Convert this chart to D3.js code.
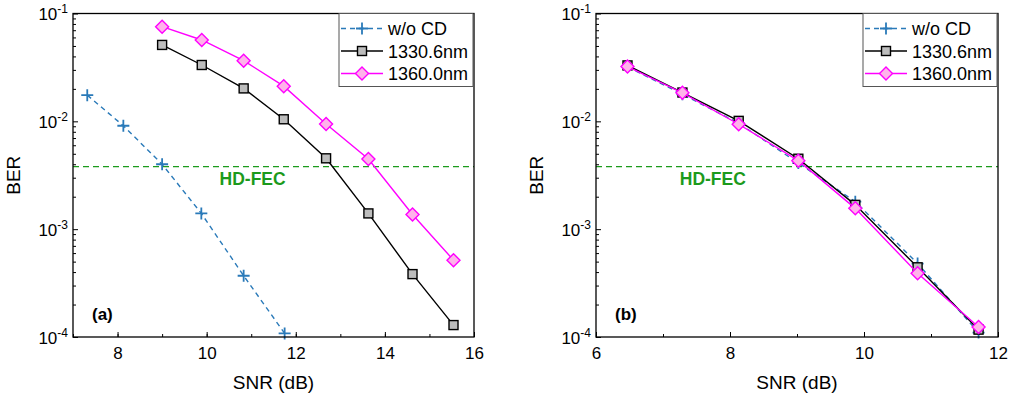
<!DOCTYPE html>
<html>
<head>
<meta charset="utf-8">
<script src="https://cdn.jsdelivr.net/npm/d3@7"></script>
<style>
  body { margin: 0; background: #fff; }
  text { font-family: "Liberation Sans", Arial, sans-serif; }
</style>
</head>
<body>
<div id="chart"></div>
<script>
// panel (a)
const snrA_wo = [7.32, 8.13, 9.0, 9.88, 10.83, 11.75];
const berA_wo = [0.0175, 0.0091, 0.0040, 0.0014, 0.00037, 0.000108];
const snrA = [9.0, 9.89, 10.83, 11.73, 12.68, 13.63, 14.62, 15.54];
const berA_1330 = [0.0511, 0.0333, 0.0202, 0.01045, 0.00454, 0.0014, 0.000383, 0.000129];
const berA_1360 = [0.0755, 0.0568, 0.0365, 0.0212, 0.00944, 0.00447, 0.00137, 0.000516];
// panel (b)
const snrB = [6.47, 7.29, 8.13, 9.02, 9.87, 10.8, 11.71];
const berB_wo = [0.032, 0.0178, 0.0096, 0.0041, 0.0018, 0.00048, 0.00011];
const berB_1330 = [0.033, 0.0185, 0.0101, 0.0045, 0.00168, 0.000443, 0.000117];
const berB_1360 = [0.0322, 0.0184, 0.0094, 0.00432, 0.00156, 0.00039, 0.000124];

const seriesNames = ["w/o CD", "1330.6nm", "1360.0nm"];
const xTicksA = [8, 10, 12, 14, 16];
const xTicksB = [6, 8, 10, 12];
const yTicks = [1e-1, 1e-2, 1e-3, 1e-4];
const yTickExp = ["-1", "-2", "-3", "-4"];
const hdFec = 3.8e-3;

const width = 1010, height = 398;
const plotTop = 13.5, plotBottom = 337;
const blue = "#2a7ab9", green = "#1c9a1c", magenta = "#ff00ff";

const svg = d3.select("#chart").append("svg")
  .attr("width", width).attr("height", height);

const zip = (xs, ys) => xs.map((x, i) => ({ x: x, y: ys[i] }));

const panels = [
  {
    left: 73, right: 474, xDomain: [7, 16], xTicks: xTicksA, label: "(a)", fecX: 10.29,
    series: [zip(snrA_wo, berA_wo), zip(snrA, berA_1330), zip(snrA, berA_1360)]
  },
  {
    left: 596, right: 998, xDomain: [6, 12], xTicks: xTicksB, label: "(b)", fecX: 7.25,
    series: [zip(snrB, berB_wo), zip(snrB, berB_1330), zip(snrB, berB_1360)]
  }
];

const styles = [
  { color: blue, dash: "5,4", marker: "plus" },
  { color: "#000", dash: null, marker: "square" },
  { color: magenta, dash: null, marker: "diamond" }
];

const drawMarker = (g, type, cx, cy) => {
  if (type === "plus") {
    g.append("path")
      .attr("d", `M${cx - 6},${cy}H${cx + 6}M${cx},${cy - 6}V${cy + 6}`)
      .attr("stroke", blue).attr("stroke-width", 1.8);
  } else if (type === "square") {
    g.append("rect")
      .attr("x", cx - 4.5).attr("y", cy - 4.5).attr("width", 9).attr("height", 9)
      .attr("fill", "#bdbdbd").attr("stroke", "#000").attr("stroke-width", 1.4);
  } else {
    g.append("path")
      .attr("d", `M${cx},${cy - 6.5}L${cx + 6.5},${cy}L${cx},${cy + 6.5}L${cx - 6.5},${cy}Z`)
      .attr("fill", "#ffb3ea").attr("stroke", magenta).attr("stroke-width", 1.4);
  }
};

panels.forEach(p => {
  const x = d3.scaleLinear().domain(p.xDomain).range([p.left, p.right]);
  const y = d3.scaleLog().domain([1e-4, 1e-1]).range([plotBottom, plotTop]);
  const g = svg.append("g");

  // HD-FEC threshold
  g.append("line")
    .attr("x1", p.left).attr("x2", p.right)
    .attr("y1", y(hdFec)).attr("y2", y(hdFec))
    .attr("stroke", green).attr("stroke-width", 1.4).attr("stroke-dasharray", "6,4");
  g.append("text")
    .attr("x", x(p.fecX)).attr("y", 185)
    .attr("font-size", 17.5).attr("font-weight", "bold").attr("fill", green)
    .text("HD-FEC");

  // series
  const line = d3.line().x(d => x(d.x)).y(d => y(d.y));
  p.series.forEach((data, i) => {
    const s = styles[i];
    g.append("path")
      .attr("d", line(data))
      .attr("fill", "none").attr("stroke", s.color).attr("stroke-width", 1.4)
      .attr("stroke-dasharray", s.dash);
    const mg = g.append("g");
    data.forEach(d => drawMarker(mg, s.marker, x(d.x), y(d.y)));
  });

  // axes (ticks inward)
  const xMinor = d3.range(p.xDomain[0], p.xDomain[1] + 0.5, 1);
  g.append("g").attr("transform", `translate(0,${plotBottom})`)
    .call(d3.axisBottom(x).tickValues(xMinor).tickSize(-3).tickFormat(""))
    .call(a => a.select(".domain").remove());
  g.append("g").attr("transform", `translate(0,${plotBottom})`)
    .call(d3.axisBottom(x).tickValues(p.xTicks).tickSize(-5).tickPadding(10)
      .tickFormat(d3.format("d")))
    .call(a => a.select(".domain").remove())
    .call(a => a.selectAll("text").attr("font-size", 17).attr("fill", "#000")
      .attr("font-family", "Liberation Sans, Arial, sans-serif"));

  const yMinor = [];
  [1e-4, 1e-3, 1e-2].forEach(b => d3.range(2, 10).forEach(k => yMinor.push(b * k)));
  g.append("g").attr("transform", `translate(${p.left},0)`)
    .call(d3.axisLeft(y).tickValues(yMinor).tickSize(-3).tickFormat(""))
    .call(a => a.select(".domain").remove());
  const yAx = g.append("g").attr("transform", `translate(${p.left},0)`)
    .call(d3.axisLeft(y).tickValues(yTicks).tickSize(-5).tickFormat(""))
    .call(a => a.select(".domain").remove());
  yAx.selectAll(".tick").each(function (d, i) {
    const t = d3.select(this).append("text")
      .attr("x", -5).attr("y", 6).attr("text-anchor", "end")
      .attr("fill", "#000").attr("font-size", 17)
      .attr("font-family", "Liberation Sans, Arial, sans-serif");
    t.append("tspan").text("10");
    t.append("tspan").attr("font-size", 12).attr("dy", -7).text(yTickExp[i]);
  });

  // frame
  g.append("rect")
    .attr("x", p.left).attr("y", plotTop)
    .attr("width", p.right - p.left).attr("height", plotBottom - plotTop)
    .attr("fill", "none").attr("stroke", "#000").attr("stroke-width", 1.3);

  // axis titles
  g.append("text")
    .attr("x", (p.left + p.right) / 2).attr("y", 389)
    .attr("text-anchor", "middle").attr("font-size", 19).text("SNR (dB)");
  g.append("text")
    .attr("transform", `translate(${p.left - 53},${(plotTop + plotBottom) / 2}) rotate(-90)`)
    .attr("text-anchor", "middle").attr("font-size", 19).text("BER");

  // panel label
  g.append("text")
    .attr("x", p.left + 19).attr("y", 320)
    .attr("font-size", 17).attr("font-weight", "bold").text(p.label);

  // legend
  const lx = p.right - 135, ly = plotTop;
  const lg = g.append("g");
  lg.append("rect")
    .attr("x", lx).attr("y", ly).attr("width", 134).attr("height", 73)
    .attr("fill", "#fff").attr("stroke", "#555").attr("stroke-width", 1);
  seriesNames.forEach((name, i) => {
    const cy = ly + 15 + i * 22.5;
    const s = styles[i];
    lg.append("line")
      .attr("x1", lx + 2).attr("x2", lx + 44).attr("y1", cy).attr("y2", cy)
      .attr("stroke", s.color).attr("stroke-width", 1.4)
      .attr("stroke-dasharray", s.dash);
    drawMarker(lg, s.marker, lx + 23, cy);
    lg.append("text")
      .attr("x", lx + 49).attr("y", cy + 6.5)
      .attr("font-size", 18).text(name);
  });
});
</script>
</body>
</html>
